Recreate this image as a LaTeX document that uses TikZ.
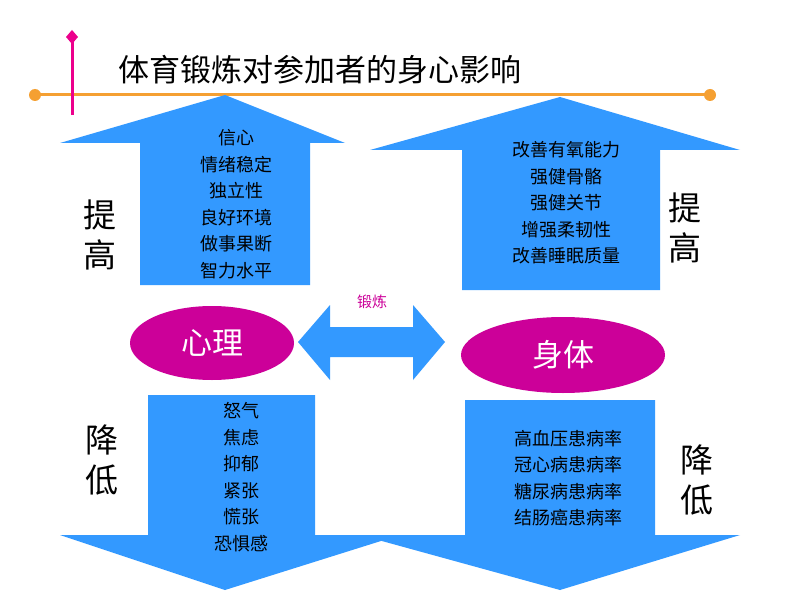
\documentclass[tikz,border=0pt]{standalone}
\usepackage{fontspec}
\setmainfont{Noto Sans CJK SC}
\usetikzlibrary{shapes.geometric}
\definecolor{ablue}{RGB}{51,153,255}
\definecolor{mag}{RGB}{204,0,153}
\definecolor{org}{RGB}{245,160,50}
\tikzset{arr/.style={fill=ablue,draw=none},
 lst/.style={align=center,font=\fontsize{18}{26.5}\selectfont},
 big/.style={align=center,font=\fontsize{33}{40}\selectfont},
 ell/.style={ellipse,fill=mag,text=white,font=\fontsize{31}{34}\selectfont}}
\begin{document}
\begin{tikzpicture}[x=1pt,y=-1pt]
\useasboundingbox[fill=white] (0,0) rectangle (794,596);
\draw[org,line width=3pt] (35,95) -- (710,95);
\fill[org] (35,95) circle (6) (710,95) circle (6);
\draw[magenta,line width=3pt] (72,40) -- (72,115);
\fill[magenta] (72,30) -- (78,37) -- (72,44) -- (66,37) -- cycle;
\node[anchor=west,font=\fontsize{31}{34}\selectfont] (title) at (115,70) {体育锻炼对参加者的身心影响};
% up arrows
\fill[arr] (140,285) -- (140,143) -- (60,143) -- (225,95) -- (345,143) -- (310,143) -- (310,285) -- cycle;
\fill[arr] (462,290) -- (462,150) -- (370,150) -- (560,97) -- (740,150) -- (660,150) -- (660,290) -- cycle;
% down arrows
\fill[arr] (148,395) -- (315,395) -- (315,535) -- (400,535) -- (225,590) -- (60,535) -- (148,535) -- cycle;
\fill[arr] (465,400) -- (655,400) -- (655,535) -- (740,535) -- (560,590) -- (360,535) -- (465,535) -- cycle;
% double arrow
\fill[arr] (298,342) -- (330,305) -- (330,327) -- (413,327) -- (413,305) -- (445,342) -- (413,380) -- (413,357) -- (330,357) -- (330,380) -- cycle;
\node[font=\fontsize{15}{18}\selectfont,text=mag] (dl) at (372,302) {锻炼};
\node[ell,minimum width=164,minimum height=74] (xl) at (212,343) {心理};
\node[ell,minimum width=204,minimum height=76] (st) at (563,355) {身体};
\node[lst] (a) at (236,204) {信心\\情绪稳定\\独立性\\良好环境\\做事果断\\智力水平};
\node[lst] (b) at (566,203) {改善有氧能力\\强健骨骼\\强健关节\\增强柔韧性\\改善睡眠质量};
\node[lst] (c) at (241,477) {怒气\\焦虑\\抑郁\\紧张\\慌张\\恐惧感};
\node[lst] (d) at (568,478) {高血压患病率\\冠心病患病率\\糖尿病患病率\\结肠癌患病率};
\node[big] (e) at (100,235) {提\\高};
\node[big] (f) at (685,228) {提\\高};
\node[big] (g) at (102,460) {降\\低};
\node[big] (h) at (697,480) {降\\低};
\end{tikzpicture}
\end{document}
